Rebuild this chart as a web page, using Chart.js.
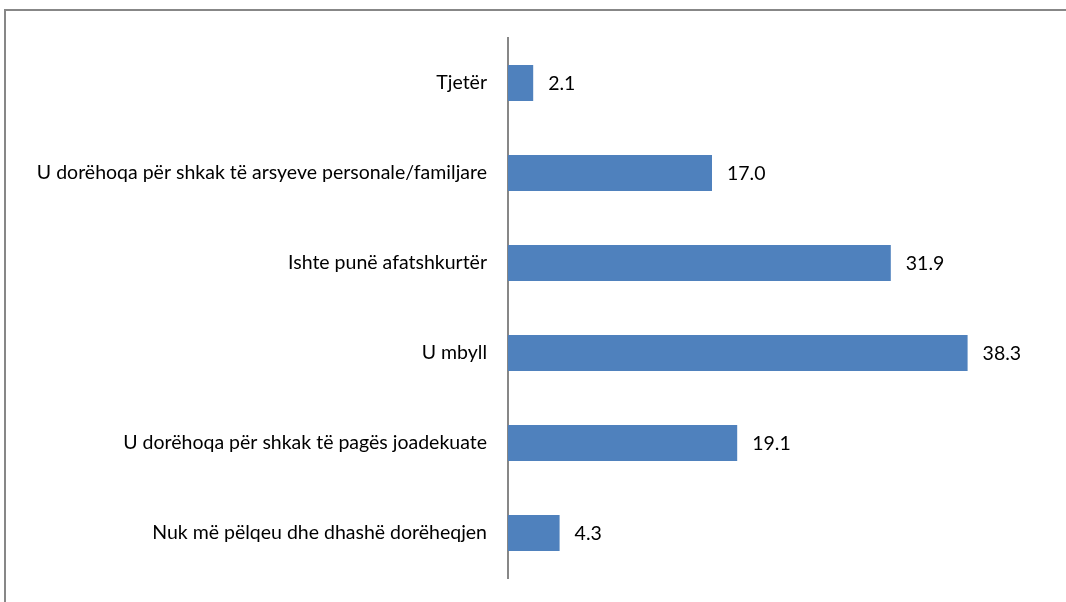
<!DOCTYPE html>
<html><head><meta charset="utf-8">
<script src="https://cdn.jsdelivr.net/npm/chart.js@4/dist/chart.umd.min.js"></script>
<style>
html,body{margin:0;padding:0;background:#fff;overflow:hidden}
#wrap{position:absolute;left:0;top:0;width:1066px;height:602px}
#frame{position:absolute;left:4px;top:9px;width:1100px;height:700px;border:2px solid #878787;box-sizing:border-box}
canvas{position:absolute;left:0;top:0}
</style></head><body>
<div id="wrap"><div id="frame"></div><canvas id="c" width="1066" height="602"></canvas></div>
<script>
const categories = [
  "Tjetër",
  "U dorëhoqa për shkak të arsyeve personale/familjare",
  "Ishte punë afatshkurtër",
  "U mbyll",
  "U dorëhoqa për shkak të pagës joadekuate",
  "Nuk më pëlqeu dhe dhashë dorëheqjen"
];
const values = [2.1, 17.0, 31.9, 38.3, 19.1, 4.3];
const axisMin = 0, axisMax = 45;

const FONT = "Lato, 'Open Sans', sans-serif";
const FSIZE = 19.5;

const valueLabels = {
  id: 'valueLabels',
  afterDatasetsDraw(chart) {
    const ctx = chart.ctx;
    const meta = chart.getDatasetMeta(0);
    ctx.save();
    ctx.font = FSIZE + "px " + FONT;
    ctx.fillStyle = "#000";
    ctx.textAlign = "left";
    ctx.textBaseline = "middle";
    meta.data.forEach((bar, i) => {
      ctx.fillText(values[i].toFixed(1), bar.x + 15, bar.y + 1);
    });
    ctx.restore();
  }
};

new Chart(document.getElementById('c'), {
  type: 'bar',
  data: {
    labels: categories,
    datasets: [{
      data: values,
      backgroundColor: '#4F81BD',
      borderWidth: 0,
      barPercentage: 0.4,
      categoryPercentage: 1.0
    }]
  },
  options: {
    indexAxis: 'y',
    responsive: false,
    animation: false,
    layout: { padding: { top: 38, bottom: 24, right: 18, left: 0 } },
    plugins: { legend: { display: false }, tooltip: { enabled: false } },
    scales: {
      x: { display: false, min: axisMin, max: axisMax },
      y: {
        afterFit(s) { s.width = 508; s.paddingTop = 0; s.paddingBottom = 0; },
        grid: { display: false, drawTicks: false },
        border: { display: true, color: '#878787', width: 2 },
        ticks: { color: '#000', padding: 21, font: { family: FONT, size: FSIZE } }
      }
    }
  },
  plugins: [valueLabels]
});
</script>
</body></html>
